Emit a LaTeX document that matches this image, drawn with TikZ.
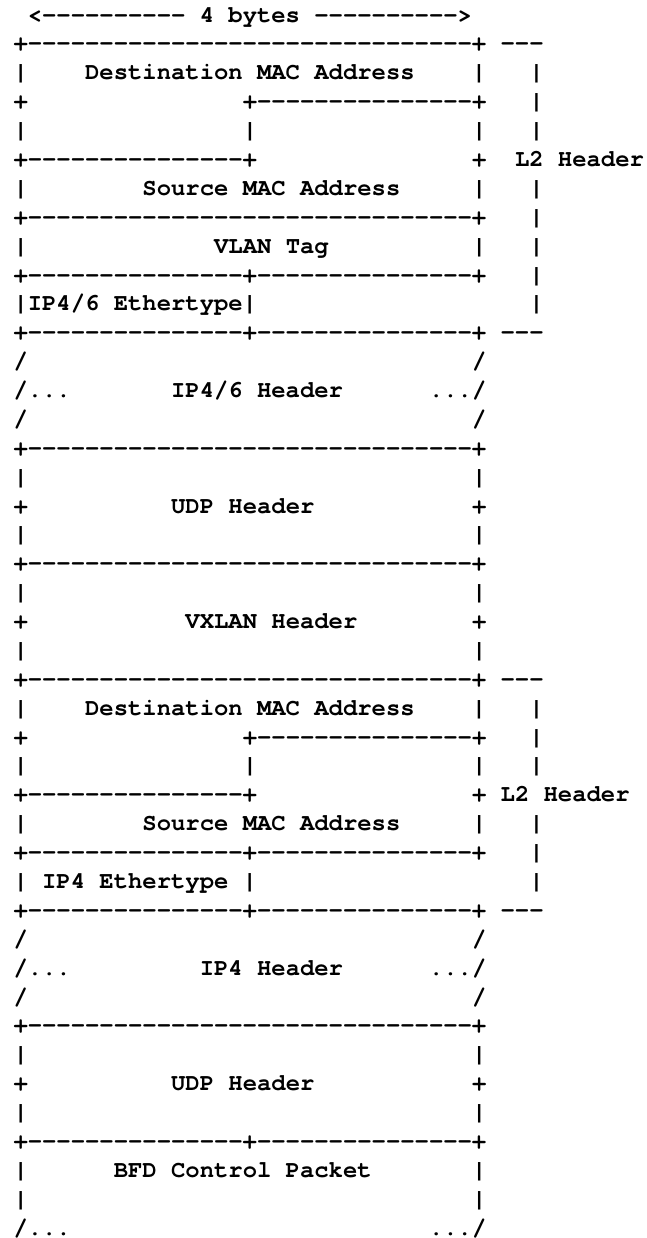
\documentclass[tikz,border=0pt]{standalone}
\usepackage{fontspec}
\newfontfamily\cur[Ligatures=TeXOff]{texgyrecursor-bold.otf}
\newlength\cw
\setlength\cw{14.33pt}
\newcommand\sk[1]{\hspace*{#1\cw}}
\newcommand\rep[2]{\ifnum#1>0 #2\rep{\numexpr#1-1\relax}{#2}\fi}
\newcommand\dd[1]{\rep{#1}{-}}
\tikzset{txt/.style={anchor=base west, inner sep=0pt, outer sep=0pt, text=black,
  font=\cur\fontsize{23.88pt}{28.88pt}\selectfont}}
\newcommand\arow[3]{\node[txt] (l#1) at ({13.5pt+#2*14.33pt},{-22.1pt-(#1-1)*28.88pt}) {\frenchspacing #3};}
\begin{document}
\begin{tikzpicture}
\useasboundingbox (0,0) rectangle (646pt,-1238pt);
\arow{1}{1}{<\dd{10}\sk{1}4\sk{1}bytes\sk{1}\dd{10}>}
\arow{2}{0}{+\dd{31}+\sk{1}\dd{3}}
\arow{3}{0}{|\sk{4}Destination\sk{1}MAC\sk{1}Address\sk{4}|\sk{3}|}
\arow{4}{0}{+\sk{15}+\dd{15}+\sk{3}|}
\arow{5}{0}{|\sk{15}|\sk{15}|\sk{3}|}
\arow{6}{0}{+\dd{15}+\sk{15}+\sk{2}L2\sk{1}Header}
\arow{7}{0}{|\sk{8}Source\sk{1}MAC\sk{1}Address\sk{5}|\sk{3}|}
\arow{8}{0}{+\dd{31}+\sk{3}|}
\arow{9}{0}{|\sk{13}VLAN\sk{1}Tag\sk{10}|\sk{3}|}
\arow{10}{0}{+\dd{15}+\dd{15}+\sk{3}|}
\arow{11}{0}{|IP4/6\sk{1}Ethertype|\sk{19}|}
\arow{12}{0}{+\dd{15}+\dd{15}+\sk{1}\dd{3}}
\arow{13}{0}{/\sk{31}/}
\arow{14}{0}{/...\sk{7}IP4/6\sk{1}Header\sk{6}.../}
\arow{15}{0}{/\sk{31}/}
\arow{16}{0}{+\dd{31}+}
\arow{17}{0}{|\sk{31}|}
\arow{18}{0}{+\sk{10}UDP\sk{1}Header\sk{11}+}
\arow{19}{0}{|\sk{31}|}
\arow{20}{0}{+\dd{31}+}
\arow{21}{0}{|\sk{31}|}
\arow{22}{0}{+\sk{11}VXLAN\sk{1}Header\sk{8}+}
\arow{23}{0}{|\sk{31}|}
\arow{24}{0}{+\dd{31}+\sk{1}\dd{3}}
\arow{25}{0}{|\sk{4}Destination\sk{1}MAC\sk{1}Address\sk{4}|\sk{3}|}
\arow{26}{0}{+\sk{15}+\dd{15}+\sk{3}|}
\arow{27}{0}{|\sk{15}|\sk{15}|\sk{3}|}
\arow{28}{0}{+\dd{15}+\sk{15}+\sk{1}L2\sk{1}Header}
\arow{29}{0}{|\sk{8}Source\sk{1}MAC\sk{1}Address\sk{5}|\sk{3}|}
\arow{30}{0}{+\dd{15}+\dd{15}+\sk{3}|}
\arow{31}{0}{|\sk{1}IP4\sk{1}Ethertype\sk{1}|\sk{19}|}
\arow{32}{0}{+\dd{15}+\dd{15}+\sk{1}\dd{3}}
\arow{33}{0}{/\sk{31}/}
\arow{34}{0}{/...\sk{9}IP4\sk{1}Header\sk{6}.../}
\arow{35}{0}{/\sk{31}/}
\arow{36}{0}{+\dd{31}+}
\arow{37}{0}{|\sk{31}|}
\arow{38}{0}{+\sk{10}UDP\sk{1}Header\sk{11}+}
\arow{39}{0}{|\sk{31}|}
\arow{40}{0}{+\dd{15}+\dd{15}+}
\arow{41}{0}{|\sk{6}BFD\sk{1}Control\sk{1}Packet\sk{7}|}
\arow{42}{0}{|\sk{31}|}
\arow{43}{0}{/...\sk{25}.../}
\end{tikzpicture}
\end{document}
